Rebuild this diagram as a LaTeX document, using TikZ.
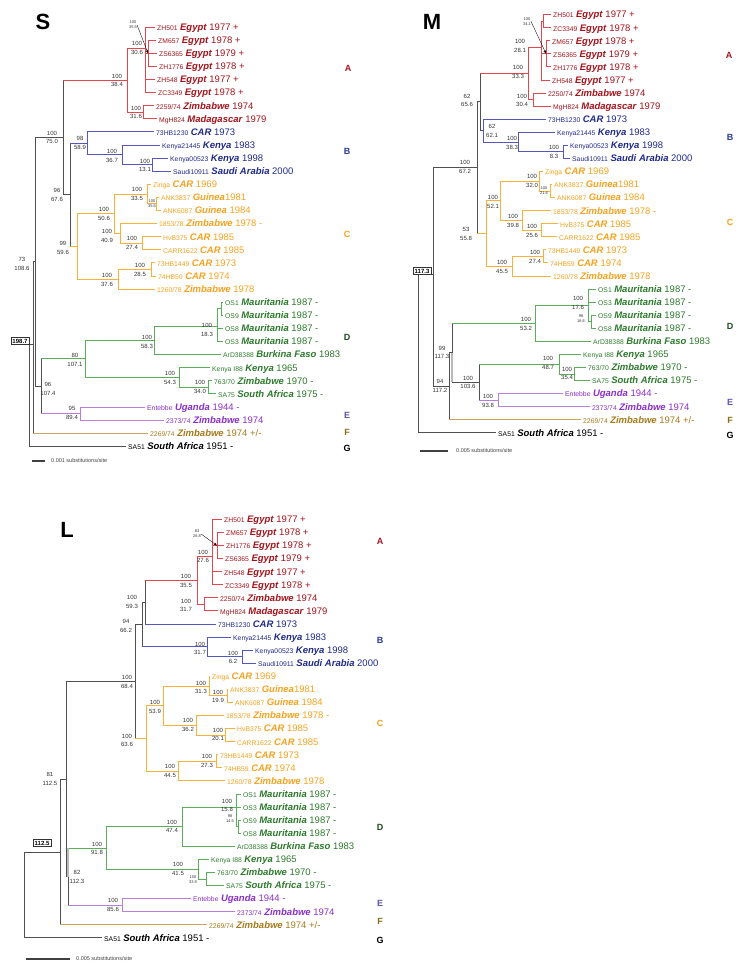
\documentclass[tikz,border=0pt]{standalone}
\usepackage{fontspec}
\setmainfont{Liberation Sans}
\usepackage{xcolor}
\definecolor{cladered}{HTML}{A3131B}
\definecolor{linered}{HTML}{E2474F}
\definecolor{cladeblue}{HTML}{1F2A8A}
\definecolor{lineblue}{HTML}{5656C0}
\definecolor{cladeorange}{HTML}{F5A21E}
\definecolor{lineorange}{HTML}{F8B23C}
\definecolor{cladegreen}{HTML}{2C7A2C}
\definecolor{linegreen}{HTML}{5AAE5A}
\definecolor{cladepurple}{HTML}{8B2FC9}
\definecolor{linepurple}{HTML}{B77EDC}
\definecolor{cladebrown}{HTML}{A67A1C}
\definecolor{linebrown}{HTML}{C9A45E}
\definecolor{treegray}{HTML}{505050}
\definecolor{letterb}{HTML}{2B3A9B}
\definecolor{letterd}{HTML}{1F4A1F}
\definecolor{lettere}{HTML}{5E55A8}
\definecolor{letterf}{HTML}{8A6A12}
\usepackage{tikz}
\usetikzlibrary{arrows.meta}
\newcommand{\lbl}[3]{{\fontsize{6.8}{7}\selectfont #1}\hspace{2.5pt}\textbf{\textit{#2}} #3}

\begin{document}
\begin{tikzpicture}[x=1pt, y=-1pt]
    \tikzstyle{leaf} = [anchor=west, xshift=-2pt, inner xsep=2pt, inner ysep=0pt, text height=6.8pt, text depth=0pt, font=\fontsize{9.5}{10}\selectfont]
    \tikzstyle{bs} = [align=center, inner sep=0pt, text=black!80, font=\fontsize{6}{8.5}\selectfont]
    \tikzstyle{tinybs} = [align=center, inner sep=0pt, text=black!80, font=\fontsize{4}{5}\selectfont]
    \tikzstyle{letter} = [inner sep=0pt, font=\fontsize{9}{9}\selectfont\bfseries]
    \tikzstyle{treename} = [inner sep=0pt, font=\fontsize{22}{22}\selectfont\bfseries]
    \tikzstyle{rootbox} = [draw=black!80, fill=white, line width=0.5pt, inner xsep=1.5pt, inner ysep=1.2pt, font=\fontsize{6}{6}\selectfont\bfseries]
    \tikzstyle{scaletext} = [anchor=west, inner sep=0pt, text=black!75, font=\fontsize{5.5}{6}\selectfont]
    \tikzstyle{kl} = [treegray, line width=0.7pt]
    \tikzstyle{rl} = [linered, line width=0.7pt]
    \tikzstyle{bl} = [lineblue, line width=0.7pt]
    \tikzstyle{ol} = [lineorange, line width=0.7pt]
    \tikzstyle{gl} = [linegreen, line width=0.7pt]
    \tikzstyle{pl} = [linepurple, line width=0.7pt]
    \tikzstyle{fl} = [linebrown, line width=0.7pt]
    \tikzstyle{heavy} = [gray!55, line width=2.2pt]
    \tikzstyle{scalebar} = [black!75, line width=1.1pt]
    \tikzstyle{pointer} = [-{Stealth[length=3.5pt,width=2.5pt]}, black, line width=0.35pt]

    \useasboundingbox (0,0) rectangle (746,972);

    % ================= S =================
    \node[treename] (s-name) at (43,22) {S};

    \node[leaf, text=cladered] (s-zh501) at (157,27.0) {\lbl{ZH501}{Egypt}{1977 +}};
    \node[leaf, text=cladered] (s-zm657) at (158,40.1) {\lbl{ZM657}{Egypt}{1978 +}};
    \node[leaf, text=cladered] (s-zs6365) at (159,53.2) {\lbl{ZS6365}{Egypt}{1979 +}};
    \node[leaf, text=cladered] (s-zh1776) at (159,66.3) {\lbl{ZH1776}{Egypt}{1978 +}};
    \node[leaf, text=cladered] (s-zh548) at (157,79.4) {\lbl{ZH548}{Egypt}{1977 +}};
    \node[leaf, text=cladered] (s-zc3349) at (158,92.5) {\lbl{ZC3349}{Egypt}{1978 +}};
    \node[leaf, text=cladered] (s-z2259) at (156,105.6) {\lbl{2259/74}{Zimbabwe}{1974}};
    \node[leaf, text=cladered] (s-mgh824) at (159,118.7) {\lbl{MgH824}{Madagascar}{1979}};
    \node[leaf, text=cladeblue] (s-hb1230) at (156,131.8) {\lbl{73HB1230}{CAR}{1973}};
    \node[leaf, text=cladeblue] (s-ke21445) at (162,144.9) {\lbl{Kenya21445}{Kenya}{1983}};
    \node[leaf, text=cladeblue] (s-ke00523) at (170,158.0) {\lbl{Kenya00523}{Kenya}{1998}};
    \node[leaf, text=cladeblue] (s-sau) at (173,171.1) {\lbl{Saudi10911}{Saudi Arabia}{2000}};
    \node[leaf, text=cladeorange] (s-zinga) at (153,184.2) {\lbl{Zinga}{CAR}{1969}};
    \node[leaf, text=cladeorange] (s-ank3837) at (161,197.3) {\lbl{ANK3837}{Guinea}{\hspace{-2.6pt}1981}};
    \node[leaf, text=cladeorange] (s-ank6087) at (163,210.4) {\lbl{ANK6087}{Guinea}{1984}};
    \node[leaf, text=cladeorange] (s-z1853) at (159,223.5) {\lbl{1853/78}{Zimbabwe}{1978 -}};
    \node[leaf, text=cladeorange] (s-hvb375) at (163,236.6) {\lbl{HvB375}{CAR}{1985}};
    \node[leaf, text=cladeorange] (s-carr) at (163,249.7) {\lbl{CARR1622}{CAR}{1985}};
    \node[leaf, text=cladeorange] (s-hb1449) at (157,262.8) {\lbl{73HB1449}{CAR}{1973}};
    \node[leaf, text=cladeorange] (s-hb50) at (158,275.9) {\lbl{74HB50}{CAR}{1974}};
    \node[leaf, text=cladeorange] (s-z1260) at (157,289.0) {\lbl{1260/78}{Zimbabwe}{1978}};
    \node[leaf, text=cladegreen] (s-os1) at (225,302.1) {\lbl{OS1}{Mauritania}{1987 -}};
    \node[leaf, text=cladegreen] (s-os9) at (225,315.2) {\lbl{OS9}{Mauritania}{1987 -}};
    \node[leaf, text=cladegreen] (s-os8) at (225,328.3) {\lbl{OS8}{Mauritania}{1987 -}};
    \node[leaf, text=cladegreen] (s-os3) at (225,341.4) {\lbl{OS3}{Mauritania}{1987 -}};
    \node[leaf, text=cladegreen] (s-ard) at (223,354.5) {\lbl{ArD38388}{Burkina Faso}{1983}};
    \node[leaf, text=cladegreen] (s-kei88) at (212,367.6) {\lbl{Kenya I88}{Kenya}{1965}};
    \node[leaf, text=cladegreen] (s-z763) at (214,380.7) {\lbl{763/70}{Zimbabwe}{1970 -}};
    \node[leaf, text=cladegreen] (s-sa75) at (218,393.8) {\lbl{SA75}{South Africa}{1975 -}};
    \node[leaf, text=cladepurple] (s-ent) at (147,406.9) {\lbl{Entebbe}{Uganda}{1944 -}};
    \node[leaf, text=cladepurple] (s-z2373) at (166,420.0) {\lbl{2373/74}{Zimbabwe}{1974}};
    \node[leaf, text=cladebrown] (s-z2269) at (150,433.1) {\lbl{2269/74}{Zimbabwe}{1974 +/-}};
    \node[leaf, text=black] (s-sa51) at (128,446.2) {\lbl{SA51}{South Africa}{1951 -}};

    \coordinate (s-root) at (29,344);
    \coordinate (s-n1) at (33,344);
    \coordinate (s-n2) at (35,261.7);
    \coordinate (s-n75) at (63,137.4);
    \coordinate (s-n96) at (70,194.8);
    \coordinate (s-a) at (127,80);
    \coordinate (s-egy) at (145,48);
    \coordinate (s-egy2) at (148,53.2);
    \coordinate (s-zm) at (143,112.2);
    \coordinate (s-b) at (87,143.2);
    \coordinate (s-b2) at (122,154.7);
    \coordinate (s-b3) at (152,164.5);
    \coordinate (s-c) at (77,246.4);
    \coordinate (s-c1) at (114,213.6);
    \coordinate (s-c2) at (147,194);
    \coordinate (s-c3) at (156,203.8);
    \coordinate (s-c4) at (120,233.3);
    \coordinate (s-c6) at (142,243.1);
    \coordinate (s-c5) at (118,279.2);
    \coordinate (s-c7) at (151,269.3);
    \coordinate (s-de) at (41,386.1);
    \coordinate (s-d) at (85,358.8);
    \coordinate (s-d1) at (154,340.2);
    \coordinate (s-d2) at (217,326);
    \coordinate (s-d2a) at (221,308.6);
    \coordinate (s-d3) at (179,377.4);
    \coordinate (s-d4) at (208,387.2);
    \coordinate (s-e) at (80,413.4);

    \draw[kl] (s-root) |- (s-n1) (s-root) |- (s-sa51);
    \draw[kl] (s-n1) |- (s-n2) (s-n1) |- (s-z2269);
    \draw[fl] (s-n1 |- s-z2269) -- (s-z2269);
    \draw[kl] (s-n2) |- (s-n75) (s-n2) |- (s-de);
    \draw[kl] (s-n75) |- (s-a) (s-n75) |- (s-n96);
    \draw[rl] (s-n75 |- s-a) -- (s-a);
    \draw[kl] (s-n96) |- (s-b) (s-n96) |- (s-c);
    \draw[bl] (s-n96 |- s-b) -- (s-b);
    \draw[ol] (s-n96 |- s-c) -- (s-c);
    \draw[kl] (s-de) |- (s-d) (s-de) |- (s-e);
    \draw[gl] (s-de |- s-d) -- (s-d);
    \draw[pl] (s-de |- s-e) -- (s-e);

    \draw[rl] (s-a) |- (s-egy) (s-a) |- (s-zm);
    \draw[rl] (s-egy) |- (s-zh501) (s-egy) |- (s-egy2) (s-egy) |- (s-zh548) (s-egy) |- (s-zc3349);
    \draw[rl] (s-egy2) |- (s-zm657) (s-egy2) |- (s-zs6365) (s-egy2) |- (s-zh1776);
    \draw[rl] (s-zm) |- (s-z2259) (s-zm) |- (s-mgh824);
    \draw[bl] (s-b) |- (s-hb1230) (s-b) |- (s-b2);
    \draw[bl] (s-b2) |- (s-ke21445) (s-b2) |- (s-b3);
    \draw[bl] (s-b3) |- (s-ke00523) (s-b3) |- (s-sau);
    \draw[ol] (s-c) |- (s-c1) (s-c) |- (s-c5);
    \draw[ol] (s-c1) |- (s-c2) (s-c1) |- (s-c4);
    \draw[ol] (s-c2) |- (s-zinga) (s-c2) |- (s-c3);
    \draw[ol] (s-c3) |- (s-ank3837) (s-c3) |- (s-ank6087);
    \draw[ol] (s-c4) |- (s-z1853) (s-c4) |- (s-c6);
    \draw[ol] (s-c6) |- (s-hvb375) (s-c6) |- (s-carr);
    \draw[ol] (s-c5) |- (s-c7) (s-c5) |- (s-z1260);
    \draw[ol] (s-c7) |- (s-hb1449) (s-c7) |- (s-hb50);
    \draw[gl] (s-d) |- (s-d1) (s-d) |- (s-d3);
    \draw[gl] (s-d1) |- (s-d2) (s-d1) |- (s-ard);
    \draw[gl] (s-d2) |- (s-d2a) (s-d2) |- (s-os8) (s-d2) |- (s-os3);
    \draw[gl] (s-d2a) |- (s-os1) (s-d2a) |- (s-os9);
    \draw[gl] (s-d3) |- (s-kei88) (s-d3) |- (s-d4);
    \draw[gl] (s-d4) |- (s-z763) (s-d4) |- (s-sa75);
    \draw[pl] (s-e) |- (s-ent) (s-e) |- (s-z2373);

    \node[tinybs] (s-t1) at (133,25) {100\\35.5};
    \draw[pointer] (s-t1.east) -- (s-egy2);
    \node[bs] (s-t2) at (137,48) {100\\30.6};
    \node[bs] (s-t3) at (117,80.5) {100\\38.4};
    \node[bs] (s-t4) at (136,112.5) {100\\31.6};
    \node[bs] (s-t5) at (52,137.5) {100\\75.0};
    \node[bs] (s-t6) at (80,143) {98\\58.9};
    \node[bs] (s-t7) at (112,156) {100\\36.7};
    \node[bs] (s-t8) at (145,165.5) {100\\13.1};
    \node[bs] (s-t9) at (57,195) {96\\67.6};
    \node[bs] (s-t10) at (137,194) {100\\33.5};
    \node[tinybs] (s-t11) at (152,204) {100\\35.6};
    \node[bs] (s-t12) at (104,214) {100\\50.6};
    \node[bs] (s-t13) at (107,236) {100\\40.9};
    \node[bs] (s-t14) at (132,243) {100\\27.4};
    \node[bs] (s-t15) at (63,248) {99\\59.6};
    \node[bs] (s-t16) at (22,264) {73\\108.6};
    \node[bs] (s-t17) at (140,270) {100\\28.5};
    \node[bs] (s-t18) at (107,280) {100\\37.6};
    \node[bs] (s-t19) at (207,330) {100\\18.3};
    \node[bs] (s-t20) at (147,342) {100\\58.3};
    \node[bs] (s-t21) at (75,360) {80\\107.1};
    \node[bs] (s-t22) at (170,378) {100\\54.3};
    \node[bs] (s-t23) at (200,387) {100\\34.0};
    \node[bs] (s-t24) at (48,389) {96\\107.4};
    \node[bs] (s-t25) at (72,413) {95\\89.4};
    \node[rootbox] (s-rootval) at (20,341) {198.7};

    \node[letter, text=cladered] (s-ka) at (348,68) {A};
    \node[letter, text=letterb] (s-kb) at (347,151) {B};
    \node[letter, text=cladeorange] (s-kc) at (347,234) {C};
    \node[letter, text=letterd] (s-kd) at (347,337) {D};
    \node[letter, text=lettere] (s-ke) at (347,415) {E};
    \node[letter, text=letterf] (s-kf) at (347,432) {F};
    \node[letter, text=black] (s-kg) at (347,448) {G};

    \coordinate (s-sc1) at (32,461);
    \coordinate (s-sc2) at (45,461);
    \draw[scalebar] (s-sc1) -- (s-sc2);
    \node[scaletext] (s-sct) at (51,461) {0.001 substitutions/site};

    % ================= M =================
    \node[treename] (m-name) at (432,22) {M};

    \node[leaf, text=cladered] (m-zh501) at (553,14.5) {\lbl{ZH501}{Egypt}{1977 +}};
    \node[leaf, text=cladered] (m-zc3349) at (553,27.6) {\lbl{ZC3349}{Egypt}{1978 +}};
    \node[leaf, text=cladered] (m-zm657) at (552,40.6) {\lbl{ZM657}{Egypt}{1978 +}};
    \node[leaf, text=cladered] (m-zs6365) at (553,53.7) {\lbl{ZS6365}{Egypt}{1979 +}};
    \node[leaf, text=cladered] (m-zh1776) at (553,66.8) {\lbl{ZH1776}{Egypt}{1978 +}};
    \node[leaf, text=cladered] (m-zh548) at (552,79.9) {\lbl{ZH548}{Egypt}{1977 +}};
    \node[leaf, text=cladered] (m-z2250) at (548,92.9) {\lbl{2250/74}{Zimbabwe}{1974}};
    \node[leaf, text=cladered] (m-mgh824) at (553,106.0) {\lbl{MgH824}{Madagascar}{1979}};
    \node[leaf, text=cladeblue] (m-hb1230) at (548,119.1) {\lbl{73HB1230}{CAR}{1973}};
    \node[leaf, text=cladeblue] (m-ke21445) at (557,132.1) {\lbl{Kenya21445}{Kenya}{1983}};
    \node[leaf, text=cladeblue] (m-ke00523) at (570,145.2) {\lbl{Kenya00523}{Kenya}{1998}};
    \node[leaf, text=cladeblue] (m-sau) at (572,158.3) {\lbl{Saudi10911}{Saudi Arabia}{2000}};
    \node[leaf, text=cladeorange] (m-zinga) at (545,171.3) {\lbl{Zinga}{CAR}{1969}};
    \node[leaf, text=cladeorange] (m-ank3837) at (554,184.4) {\lbl{ANK3837}{Guinea}{\hspace{-2.6pt}1981}};
    \node[leaf, text=cladeorange] (m-ank6087) at (557,197.5) {\lbl{ANK6087}{Guinea}{1984}};
    \node[leaf, text=cladeorange] (m-z1853) at (553,210.6) {\lbl{1853/78}{Zimbabwe}{1978 -}};
    \node[leaf, text=cladeorange] (m-hvb375) at (560,223.6) {\lbl{HvB375}{CAR}{1985}};
    \node[leaf, text=cladeorange] (m-carr) at (559,236.7) {\lbl{CARR1622}{CAR}{1985}};
    \node[leaf, text=cladeorange] (m-hb1449) at (548,249.8) {\lbl{73HB1449}{CAR}{1973}};
    \node[leaf, text=cladeorange] (m-hb59) at (550,262.8) {\lbl{74HB59}{CAR}{1974}};
    \node[leaf, text=cladeorange] (m-z1260) at (553,275.9) {\lbl{1260/78}{Zimbabwe}{1978}};
    \node[leaf, text=cladegreen] (m-os1) at (598,289.0) {\lbl{OS1}{Mauritania}{1987 -}};
    \node[leaf, text=cladegreen] (m-os3) at (598,302.0) {\lbl{OS3}{Mauritania}{1987 -}};
    \node[leaf, text=cladegreen] (m-os9) at (598,315.1) {\lbl{OS9}{Mauritania}{1987 -}};
    \node[leaf, text=cladegreen] (m-os8) at (598,328.2) {\lbl{OS8}{Mauritania}{1987 -}};
    \node[leaf, text=cladegreen] (m-ard) at (593,341.3) {\lbl{ArD38388}{Burkina Faso}{1983}};
    \node[leaf, text=cladegreen] (m-kei88) at (583,354.3) {\lbl{Kenya I88}{Kenya}{1965}};
    \node[leaf, text=cladegreen] (m-z763) at (588,367.4) {\lbl{763/70}{Zimbabwe}{1970 -}};
    \node[leaf, text=cladegreen] (m-sa75) at (592,380.5) {\lbl{SA75}{South Africa}{1975 -}};
    \node[leaf, text=cladepurple] (m-ent) at (565,393.5) {\lbl{Entebbe}{Uganda}{1944 -}};
    \node[leaf, text=cladepurple] (m-z2373) at (592,406.6) {\lbl{2373/74}{Zimbabwe}{1974}};
    \node[leaf, text=cladebrown] (m-z2269) at (583,419.7) {\lbl{2269/74}{Zimbabwe}{1974 +/-}};
    \node[leaf, text=black] (m-sa51) at (498,432.7) {\lbl{SA51}{South Africa}{1951 -}};

    \coordinate (m-root) at (418,274);
    \coordinate (m-n1) at (433,274);
    \coordinate (m-n2) at (477,167.6);
    \coordinate (m-n62) at (480,101.8);
    \coordinate (m-a) at (528,73);
    \coordinate (m-egy) at (541,47);
    \coordinate (m-egy1) at (543,21.1);
    \coordinate (m-egy2) at (546,53.7);
    \coordinate (m-zm) at (533,99.5);
    \coordinate (m-b) at (483,130.5);
    \coordinate (m-b2) at (518,142);
    \coordinate (m-b3) at (563,151.8);
    \coordinate (m-c) at (486,233.5);
    \coordinate (m-c1) at (500,200.8);
    \coordinate (m-c2) at (539,181.1);
    \coordinate (m-c3) at (550,191);
    \coordinate (m-c4) at (522,220.4);
    \coordinate (m-c6) at (541,230.2);
    \coordinate (m-c5) at (512,266.1);
    \coordinate (m-c7) at (543,256.3);
    \coordinate (m-n94) at (449,386.2);
    \coordinate (m-n99) at (452,352.7);
    \coordinate (m-d) at (535,323.3);
    \coordinate (m-d1) at (588,305.3);
    \coordinate (m-d2) at (591,321.7);
    \coordinate (m-n109) at (479,382);
    \coordinate (m-d3) at (559,364.1);
    \coordinate (m-d4) at (574,374);
    \coordinate (m-e) at (498,400);

    \draw[kl] (m-root) |- (m-n1) (m-root) |- (m-sa51);
    \draw[kl] (m-n1) |- (m-n2) (m-n1) |- (m-n94);
    \draw[kl] (m-n2) |- (m-n62) (m-n2) |- (m-c);
    \draw[ol] (m-n2 |- m-c) -- (m-c);
    \draw[kl] (m-n62) |- (m-a) (m-n62) |- (m-b);
    \draw[rl] (m-n62 |- m-a) -- (m-a);
    \draw[kl] (m-n94) |- (m-n99) (m-n94) |- (m-z2269);
    \draw[fl] (m-n94 |- m-z2269) -- (m-z2269);
    \draw[kl] (m-n99) |- (m-d) (m-n99) |- (m-n109);
    \draw[gl] (m-n99 |- m-d) -- (m-d);
    \draw[heavy] (m-n99) -- (m-n99 |- m-n109);
    \draw[kl] (m-n109) |- (m-d3) (m-n109) |- (m-e);
    \draw[gl] (m-n109 |- m-d3) -- (m-d3);
    \draw[pl] (m-n109 |- m-e) -- (m-e);

    \draw[rl] (m-a) |- (m-egy) (m-a) |- (m-zm);
    \draw[rl] (m-egy) |- (m-egy1) (m-egy) |- (m-egy2) (m-egy) |- (m-zh548);
    \draw[rl] (m-egy1) |- (m-zh501) (m-egy1) |- (m-zc3349);
    \draw[rl] (m-egy2) |- (m-zm657) (m-egy2) |- (m-zs6365) (m-egy2) |- (m-zh1776);
    \draw[rl] (m-zm) |- (m-z2250) (m-zm) |- (m-mgh824);
    \draw[bl] (m-b) |- (m-hb1230) (m-b) |- (m-b2);
    \draw[bl] (m-b2) |- (m-ke21445) (m-b2) |- (m-b3);
    \draw[bl] (m-b3) |- (m-ke00523) (m-b3) |- (m-sau);
    \draw[ol] (m-c) |- (m-c1) (m-c) |- (m-c5);
    \draw[ol] (m-c1) |- (m-c2) (m-c1) |- (m-c4);
    \draw[ol] (m-c2) |- (m-zinga) (m-c2) |- (m-c3);
    \draw[ol] (m-c3) |- (m-ank3837) (m-c3) |- (m-ank6087);
    \draw[ol] (m-c4) |- (m-z1853) (m-c4) |- (m-c6);
    \draw[ol] (m-c6) |- (m-hvb375) (m-c6) |- (m-carr);
    \draw[ol] (m-c5) |- (m-c7) (m-c5) |- (m-z1260);
    \draw[ol] (m-c7) |- (m-hb1449) (m-c7) |- (m-hb59);
    \draw[gl] (m-d) |- (m-d1) (m-d) |- (m-ard);
    \draw[gl] (m-d1) |- (m-os1) (m-d1) |- (m-os3) (m-d1) |- (m-d2);
    \draw[gl] (m-d2) |- (m-os9) (m-d2) |- (m-os8);
    \draw[gl] (m-d3) |- (m-kei88) (m-d3) |- (m-d4);
    \draw[gl] (m-d4) |- (m-z763) (m-d4) |- (m-sa75);
    \draw[pl] (m-e) |- (m-ent) (m-e) |- (m-z2373);

    \node[tinybs] (m-t1) at (527,21.5) {100\\34.1};
    \draw[pointer] (m-t1.east) -- (m-egy2);
    \node[bs] (m-t2) at (520,46) {100\\28.1};
    \node[bs] (m-t3) at (518,72) {100\\33.3};
    \node[bs] (m-t4) at (522,100.5) {100\\30.4};
    \node[bs] (m-t5) at (467,100.5) {62\\65.6};
    \node[bs] (m-t6) at (492,131) {62\\62.1};
    \node[bs] (m-t7) at (512,143) {100\\38.3};
    \node[bs] (m-t8) at (554,152) {100\\8.3};
    \node[bs] (m-t9) at (465,167) {100\\67.2};
    \node[bs] (m-t10) at (532,181) {100\\32.0};
    \node[tinybs] (m-t11) at (544,190.5) {100\\21.6};
    \node[bs] (m-t12) at (493,202) {100\\52.1};
    \node[bs] (m-t13) at (513,221) {100\\39.8};
    \node[bs] (m-t14) at (532,231) {100\\25.6};
    \node[bs] (m-t15) at (466,234) {53\\55.8};
    \node[bs] (m-t16) at (535,257) {100\\27.4};
    \node[bs] (m-t17) at (502,267) {100\\45.5};
    \node[bs] (m-t18) at (578,303) {100\\17.6};
    \node[tinybs] (m-t19) at (581,318.5) {98\\16.6};
    \node[bs] (m-t20) at (526,324) {100\\53.2};
    \node[bs] (m-t21) at (442,352.5) {99\\117.3};
    \node[bs] (m-t22) at (548,363) {100\\48.7};
    \node[bs] (m-t23) at (567,373.5) {100\\35.4};
    \node[bs] (m-t24) at (468,382.5) {100\\103.6};
    \node[bs] (m-t25) at (440,386) {94\\117.2};
    \node[bs] (m-t26) at (488,401) {100\\93.8};
    \node[rootbox] (m-rootval) at (422,271) {117.3};

    \node[letter, text=cladered] (m-ka) at (729,55) {A};
    \node[letter, text=letterb] (m-kb) at (730,137) {B};
    \node[letter, text=cladeorange] (m-kc) at (730,222) {C};
    \node[letter, text=letterd] (m-kd) at (730,326) {D};
    \node[letter, text=lettere] (m-ke) at (730,402) {E};
    \node[letter, text=letterf] (m-kf) at (730,420) {F};
    \node[letter, text=black] (m-kg) at (730,435) {G};

    \coordinate (m-sc1) at (420,451);
    \coordinate (m-sc2) at (448,451);
    \draw[scalebar] (m-sc1) -- (m-sc2);
    \node[scaletext] (m-sct) at (456,451) {0.005 substitutions/site};

    % ================= L =================
    \node[treename] (l-name) at (67,530) {L};

    \node[leaf, text=cladered] (l-zh501) at (224,519.3) {\lbl{ZH501}{Egypt}{1977 +}};
    \node[leaf, text=cladered] (l-zm657) at (226,532.4) {\lbl{ZM657}{Egypt}{1978 +}};
    \node[leaf, text=cladered] (l-zh1776) at (226,545.5) {\lbl{ZH1776}{Egypt}{1978 +}};
    \node[leaf, text=cladered] (l-zs6365) at (225,558.5) {\lbl{ZS6365}{Egypt}{1979 +}};
    \node[leaf, text=cladered] (l-zh548) at (224,571.6) {\lbl{ZH548}{Egypt}{1977 +}};
    \node[leaf, text=cladered] (l-zc3349) at (225,584.7) {\lbl{ZC3349}{Egypt}{1978 +}};
    \node[leaf, text=cladered] (l-z2250) at (220,597.8) {\lbl{2250/74}{Zimbabwe}{1974}};
    \node[leaf, text=cladered] (l-mgh824) at (220,610.8) {\lbl{MgH824}{Madagascar}{1979}};
    \node[leaf, text=cladeblue] (l-hb1230) at (218,623.9) {\lbl{73HB1230}{CAR}{1973}};
    \node[leaf, text=cladeblue] (l-ke21445) at (233,637.0) {\lbl{Kenya21445}{Kenya}{1983}};
    \node[leaf, text=cladeblue] (l-ke00523) at (255,650.1) {\lbl{Kenya00523}{Kenya}{1998}};
    \node[leaf, text=cladeblue] (l-sau) at (258,663.1) {\lbl{Saudi10911}{Saudi Arabia}{2000}};
    \node[leaf, text=cladeorange] (l-zinga) at (212,676.2) {\lbl{Zinga}{CAR}{1969}};
    \node[leaf, text=cladeorange] (l-ank3837) at (230,689.3) {\lbl{ANK3837}{Guinea}{\hspace{-2.6pt}1981}};
    \node[leaf, text=cladeorange] (l-ank6087) at (235,702.4) {\lbl{ANK6087}{Guinea}{1984}};
    \node[leaf, text=cladeorange] (l-z1853) at (226,715.4) {\lbl{1853/78}{Zimbabwe}{1978 -}};
    \node[leaf, text=cladeorange] (l-hvb375) at (237,728.5) {\lbl{HvB375}{CAR}{1985}};
    \node[leaf, text=cladeorange] (l-carr) at (237,741.6) {\lbl{CARR1622}{CAR}{1985}};
    \node[leaf, text=cladeorange] (l-hb1449) at (220,754.7) {\lbl{73HB1449}{CAR}{1973}};
    \node[leaf, text=cladeorange] (l-hb59) at (224,767.7) {\lbl{74HB59}{CAR}{1974}};
    \node[leaf, text=cladeorange] (l-z1260) at (227,780.8) {\lbl{1260/78}{Zimbabwe}{1978}};
    \node[leaf, text=cladegreen] (l-os1) at (243,793.9) {\lbl{OS1}{Mauritania}{1987 -}};
    \node[leaf, text=cladegreen] (l-os3) at (243,807.0) {\lbl{OS3}{Mauritania}{1987 -}};
    \node[leaf, text=cladegreen] (l-os9) at (243,820.1) {\lbl{OS9}{Mauritania}{1987 -}};
    \node[leaf, text=cladegreen] (l-os8) at (243,833.1) {\lbl{OS8}{Mauritania}{1987 -}};
    \node[leaf, text=cladegreen] (l-ard) at (237,846.2) {\lbl{ArD38388}{Burkina Faso}{1983}};
    \node[leaf, text=cladegreen] (l-kei88) at (211,859.3) {\lbl{Kenya I88}{Kenya}{1965}};
    \node[leaf, text=cladegreen] (l-z763) at (217,872.4) {\lbl{763/70}{Zimbabwe}{1970 -}};
    \node[leaf, text=cladegreen] (l-sa75) at (226,885.5) {\lbl{SA75}{South Africa}{1975 -}};
    \node[leaf, text=cladepurple] (l-ent) at (193,898.5) {\lbl{Entebbe}{Uganda}{1944 -}};
    \node[leaf, text=cladepurple] (l-z2373) at (237,911.6) {\lbl{2373/74}{Zimbabwe}{1974}};
    \node[leaf, text=cladebrown] (l-z2269) at (209,924.7) {\lbl{2269/74}{Zimbabwe}{1974 +/-}};
    \node[leaf, text=black] (l-sa51) at (104,937.7) {\lbl{SA51}{South Africa}{1951 -}};

    \coordinate (l-root) at (24,852);
    \coordinate (l-n0) at (60,852);
    \coordinate (l-n81) at (66,779);
    \coordinate (l-n68) at (135,681.4);
    \coordinate (l-n94) at (142,624.4);
    \coordinate (l-n59) at (145,602);
    \coordinate (l-a) at (197,580.2);
    \coordinate (l-egy) at (212,556);
    \coordinate (l-egy2) at (217,545.5);
    \coordinate (l-zm) at (204,604.3);
    \coordinate (l-b) at (207,646.8);
    \coordinate (l-b2) at (242,656.6);
    \coordinate (l-c) at (146,738.3);
    \coordinate (l-c1) at (163,705.6);
    \coordinate (l-c2) at (209,686);
    \coordinate (l-c3) at (227,695.8);
    \coordinate (l-c4) at (196,725.2);
    \coordinate (l-c6) at (225,735);
    \coordinate (l-c5) at (178,771);
    \coordinate (l-c7) at (216,761.2);
    \coordinate (l-n82) at (68,876.5);
    \coordinate (l-d) at (106,847.9);
    \coordinate (l-d1) at (182,826.6);
    \coordinate (l-d2) at (236,807);
    \coordinate (l-d2b) at (238,826.6);
    \coordinate (l-d3) at (198,869.1);
    \coordinate (l-d4) at (206,879);
    \coordinate (l-e) at (122,905);

    \draw[kl] (l-root) |- (l-n0) (l-root) |- (l-sa51);
    \draw[kl] (l-n0) |- (l-n81) (l-n0) |- (l-z2269);
    \draw[fl] (l-n0 |- l-z2269) -- (l-z2269);
    \draw[kl] (l-n81) |- (l-n68) (l-n81) |- (l-n82);
    \draw[kl] (l-n68) |- (l-n94) (l-n68) |- (l-c);
    \draw[ol] (l-n68 |- l-c) -- (l-c);
    \draw[kl] (l-n94) |- (l-n59) (l-n94) |- (l-b);
    \draw[bl] (l-n94 |- l-b) -- (l-b);
    \draw[kl] (l-n59) |- (l-a) (l-n59) |- (l-hb1230);
    \draw[rl] (l-n59 |- l-a) -- (l-a);
    \draw[bl] (l-n59 |- l-hb1230) -- (l-hb1230);
    \draw[kl] (l-n82) |- (l-d) (l-n82) |- (l-e);
    \draw[gl] (l-n82 |- l-d) -- (l-d);
    \draw[pl] (l-n82 |- l-e) -- (l-e);
    \draw[heavy] (l-n82 |- l-d) -- (l-n82);

    \draw[rl] (l-a) |- (l-egy) (l-a) |- (l-zm);
    \draw[rl] (l-egy) |- (l-zh501) (l-egy) |- (l-egy2) (l-egy) |- (l-zh548) (l-egy) |- (l-zc3349);
    \draw[rl] (l-egy2) |- (l-zm657) (l-egy2) |- (l-zh1776) (l-egy2) |- (l-zs6365);
    \draw[rl] (l-zm) |- (l-z2250) (l-zm) |- (l-mgh824);
    \draw[bl] (l-b) |- (l-ke21445) (l-b) |- (l-b2);
    \draw[bl] (l-b2) |- (l-ke00523) (l-b2) |- (l-sau);
    \draw[ol] (l-c) |- (l-c1) (l-c) |- (l-c5);
    \draw[ol] (l-c1) |- (l-c2) (l-c1) |- (l-c4);
    \draw[ol] (l-c2) |- (l-zinga) (l-c2) |- (l-c3);
    \draw[ol] (l-c3) |- (l-ank3837) (l-c3) |- (l-ank6087);
    \draw[ol] (l-c4) |- (l-z1853) (l-c4) |- (l-c6);
    \draw[ol] (l-c6) |- (l-hvb375) (l-c6) |- (l-carr);
    \draw[ol] (l-c5) |- (l-c7) (l-c5) |- (l-z1260);
    \draw[ol] (l-c7) |- (l-hb1449) (l-c7) |- (l-hb59);
    \draw[gl] (l-d) |- (l-d1) (l-d) |- (l-d3);
    \draw[gl] (l-d1) |- (l-d2) (l-d1) |- (l-ard);
    \draw[gl] (l-d2) |- (l-os1) (l-d2) |- (l-os3) (l-d2) |- (l-d2b);
    \draw[gl] (l-d2b) |- (l-os9) (l-d2b) |- (l-os8);
    \draw[gl] (l-d3) |- (l-kei88) (l-d3) |- (l-d4);
    \draw[gl] (l-d4) |- (l-z763) (l-d4) |- (l-sa75);
    \draw[pl] (l-e) |- (l-ent) (l-e) |- (l-z2373);

    \node[tinybs] (l-t1) at (197,534) {83\\26.8};
    \draw[pointer] (l-t1.east) -- (l-egy2);
    \node[bs] (l-t2) at (203,556.5) {100\\27.6};
    \node[bs] (l-t3) at (186,581) {100\\35.5};
    \node[bs] (l-t4) at (186,605.5) {100\\31.7};
    \node[bs] (l-t5) at (132,602) {100\\59.3};
    \node[bs] (l-t6) at (126,626) {94\\66.2};
    \node[bs] (l-t7) at (200,648.5) {100\\31.7};
    \node[bs] (l-t8) at (233,657.5) {100\\6.2};
    \node[bs] (l-t9) at (127,682) {100\\68.4};
    \node[bs] (l-t10) at (201,687.5) {100\\31.3};
    \node[bs] (l-t11) at (218,696.5) {100\\19.9};
    \node[bs] (l-t12) at (155,707) {100\\53.9};
    \node[bs] (l-t13) at (188,725) {100\\36.2};
    \node[bs] (l-t14) at (218,734.5) {100\\20.1};
    \node[bs] (l-t15) at (127,740.5) {100\\63.6};
    \node[bs] (l-t16) at (207,761) {100\\27.3};
    \node[bs] (l-t17) at (170,771) {100\\44.5};
    \node[bs] (l-t18) at (50,779) {81\\112.5};
    \node[bs] (l-t19) at (227,805.5) {100\\15.8};
    \node[tinybs] (l-t20) at (230,819) {98\\14.5};
    \node[bs] (l-t21) at (172,826.5) {100\\47.4};
    \node[bs] (l-t22) at (97,848.5) {100\\91.8};
    \node[bs] (l-t23) at (178,869) {100\\41.5};
    \node[bs] (l-t24) at (77,877) {82\\112.3};
    \node[tinybs] (l-t25) at (193,880) {100\\33.9};
    \node[bs] (l-t26) at (113,905) {100\\85.6};
    \node[rootbox] (l-rootval) at (42,843) {112.5};

    \node[letter, text=cladered] (l-ka) at (380,541) {A};
    \node[letter, text=letterb] (l-kb) at (380,640) {B};
    \node[letter, text=cladeorange] (l-kc) at (380,723) {C};
    \node[letter, text=letterd] (l-kd) at (380,827) {D};
    \node[letter, text=lettere] (l-ke) at (380,903) {E};
    \node[letter, text=letterf] (l-kf) at (380,921) {F};
    \node[letter, text=black] (l-kg) at (380,940) {G};

    \coordinate (l-sc1) at (26,959);
    \coordinate (l-sc2) at (70,959);
    \draw[scalebar] (l-sc1) -- (l-sc2);
    \node[scaletext] (l-sct) at (76,959) {0.005 substitutions/site};
\end{tikzpicture}
\end{document}
